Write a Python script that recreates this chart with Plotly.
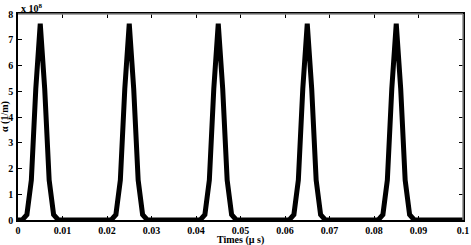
import plotly.graph_objects as go

# time samples (microseconds) and absorption values (x 1e8 1/m)
times = [round(i * 0.001, 3) for i in range(101)]
alpha = [
    0.0, 0.01, 0.21, 1.55, 5.1, 7.62, 5.1, 1.55, 0.21, 0.01,
    0.0, 0.0, 0.0, 0.0, 0.0, 0.0, 0.0, 0.0, 0.0, 0.0,
    0.0, 0.01, 0.21, 1.55, 5.1, 7.62, 5.1, 1.55, 0.21, 0.01,
    0.0, 0.0, 0.0, 0.0, 0.0, 0.0, 0.0, 0.0, 0.0, 0.0,
    0.0, 0.01, 0.21, 1.55, 5.1, 7.62, 5.1, 1.55, 0.21, 0.01,
    0.0, 0.0, 0.0, 0.0, 0.0, 0.0, 0.0, 0.0, 0.0, 0.0,
    0.0, 0.01, 0.21, 1.55, 5.1, 7.62, 5.1, 1.55, 0.21, 0.01,
    0.0, 0.0, 0.0, 0.0, 0.0, 0.0, 0.0, 0.0, 0.0, 0.0,
    0.0, 0.01, 0.21, 1.55, 5.1, 7.62, 5.1, 1.55, 0.21, 0.01,
    0.0, 0.0, 0.0, 0.0, 0.0, 0.0, 0.0, 0.0, 0.0, 0.0,
    0.0,
]
x_ticks = [0, 0.01, 0.02, 0.03, 0.04, 0.05, 0.06, 0.07, 0.08, 0.09, 0.1]
x_ticklabels = ["0", "0.01", "0.02", "0.03", "0.04", "0.05", "0.06", "0.07", "0.08", "0.09", "0.1"]
y_ticks = [0, 1, 2, 3, 4, 5, 6, 7, 8]
y_ticklabels = ["0", "1", "2", "3", "4", "5", "6", "7", "8"]

FONT = "Liberation Serif"
tfont = dict(family=FONT, size=10, color="black", weight="bold")

fig = go.Figure()
fig.add_trace(go.Scatter(
    x=times, y=alpha, mode="lines",
    line=dict(color="black", width=5),
    cliponaxis=False, showlegend=False,
))

axis_common = dict(
    ticks="inside", ticklen=4, tickcolor="black", tickwidth=1,
    showline=True, linecolor="black", linewidth=1.5, mirror="ticks",
    showgrid=False, zeroline=False, automargin=False,
    tickfont=tfont,
)

fig.update_layout(
    width=471, height=245,
    margin=dict(l=18, r=8, t=14, b=25, autoexpand=False),
    paper_bgcolor="white", plot_bgcolor="white",
    xaxis=dict(range=[0, 0.1], tickvals=x_ticks, ticktext=x_ticklabels,
               ticklabelstandoff=0, **axis_common),
    yaxis=dict(range=[0, 8], tickvals=y_ticks, ticktext=y_ticklabels,
               ticklabelstandoff=1, **axis_common),
    shapes=[
        dict(type="line", xref="paper", yref="paper", x0=0, x1=1, y0=1, y1=1,
             line=dict(color="#8a8a8a", width=1.5), layer="above"),
        dict(type="line", xref="paper", yref="paper", x0=1, x1=1, y0=0, y1=1,
             line=dict(color="#8a8a8a", width=1.5), layer="above"),
    ],
    annotations=[
        dict(text="x 10<sup>8</sup>", xref="paper", yref="paper", x=0, y=1,
             xanchor="left", yanchor="bottom", showarrow=False, xshift=1, yshift=-2,
             font=tfont),
        dict(text="Times (\u00b5 s)", xref="paper", yref="paper", x=0.5, y=0,
             xanchor="center", yanchor="top", showarrow=False, yshift=-12,
             font=tfont),
        dict(text="\u03b1 (1/m)", xref="paper", yref="paper", x=0, y=0.5,
             xanchor="center", yanchor="middle", showarrow=False, xshift=-13,
             textangle=-90, font=tfont),
    ],
)

fig.write_html("out.html",
               config={"displayModeBar": False},
               post_script="document.body.style.margin='0';document.body.style.padding='0';")
